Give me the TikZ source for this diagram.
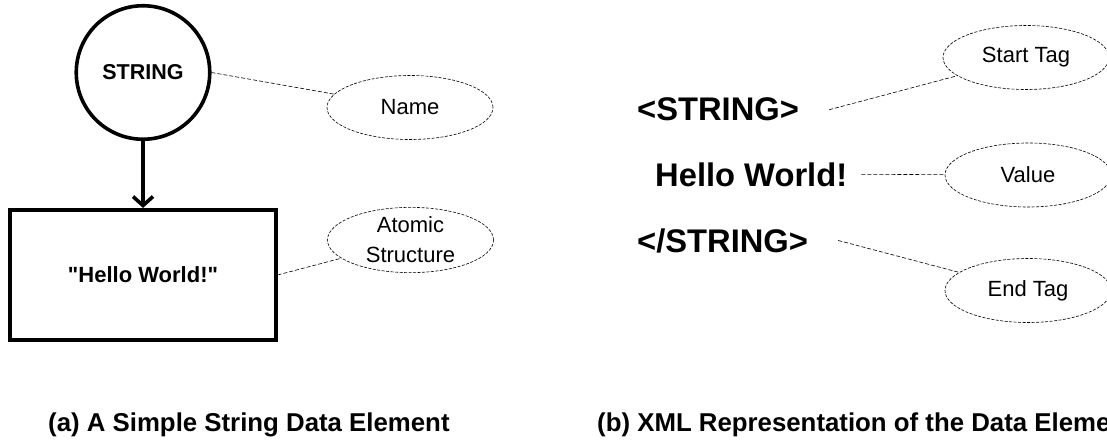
\documentclass[tikz,border=0pt]{standalone}
\usepackage{fontspec}
\setmainfont{Liberation Sans}
% same face without the TeX quote mapping, so " stays a straight quote
\newfontfamily\plainquotes{Liberation Sans}
\usetikzlibrary{shapes.geometric,arrows.meta}
\begin{document}
\begin{tikzpicture}[x=1pt,y=-1pt,
  heavy/.style={draw,line width=3.6pt},
  note/.style={ellipse,draw,line width=0.6pt,dash pattern=on 3pt off 1.5pt,
    minimum width=166pt,minimum height=64pt,inner sep=0pt,align=center,
    font=\fontsize{22}{30}\selectfont},
  link/.style={line width=0.6pt,dash pattern=on 4pt off 2pt},
  xml/.style={anchor=base west,inner sep=0pt,font=\fontsize{32.7}{36}\selectfont\bfseries},
  caption/.style={anchor=base west,inner sep=0pt,font=\fontsize{25.8}{30}\selectfont\bfseries}]
% page frame
\clip (0,0) rectangle (1107,441);
\fill[white] (0,0) rectangle (1107,441);

% (a) the data element
\node[heavy,circle,minimum size=133.5pt,inner sep=0pt,
      font=\fontsize{21.5}{24}\selectfont\bfseries] (str) at (143,72.5) {STRING};
\node[heavy,rectangle,minimum width=265.5pt,minimum height=130.5pt,
      font=\plainquotes\fontsize{22}{26}\selectfont\bfseries] (val) at (143,275) {"Hello World!"};
\draw[line width=3.6pt,-{Straight Barb[length=9pt,width=20pt]}] (str.south) -- (val.north);

\node[note] (name) at (410,107.5) {Name};
\node[note] (atom) at (410.5,240) {Atomic\\Structure};
\draw[link] (str.east) -- (name);
\draw[link] (val.east) -- (atom);

% (b) the XML form
\node[xml] (open)  at (637,121) {<STRING>};
\node[xml] (text)  at (655,186) {Hello World!};
\node[xml] (close) at (637,252) {</STRING>};

\node[note] (stag) at (1026,57.5) {Start Tag};
\node[note] (vtag) at (1028,175) {Value};
\node[note] (etag) at (1028,290.5) {End Tag};

\coordinate (o1) at ([xshift=30pt]open.east);
\coordinate (t1) at ([xshift=14pt]text.east);
\coordinate (c1) at ([xshift=30pt]close.east);
\draw[link] (o1) -- (stag);
\draw[link] (t1) -- (vtag);
\draw[link] (c1) -- (etag);

% captions
\node[caption] (capa) at (48,431) {(a) A Simple String Data Element};
\node[caption] (capb) at (597,431) {(b) XML Representation of the Data Element};
\end{tikzpicture}
\end{document}
